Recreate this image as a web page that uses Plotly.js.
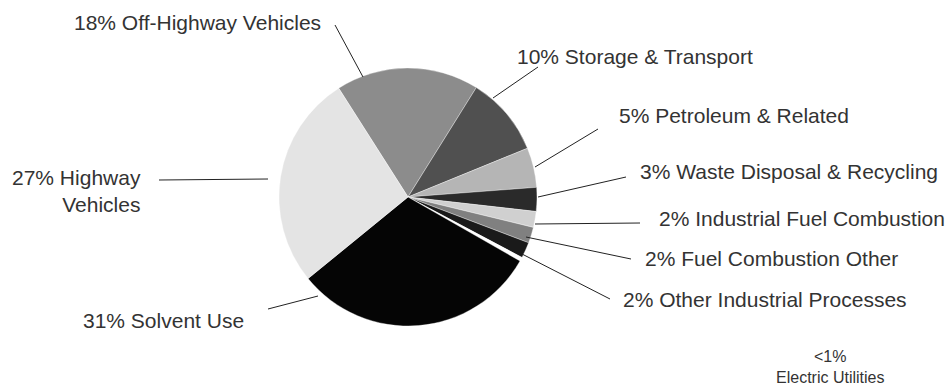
<!DOCTYPE html>
<html><head><meta charset="utf-8">
<script src="https://cdn.plot.ly/plotly-3.0.1.min.js"></script>
<style>html,body{margin:0;padding:0;background:#fff}#chart{width:950px;height:385px}</style>
</head><body><div id="chart"></div>
<script>
// Data
var categories = ["Off-Highway Vehicles","Storage & Transport","Petroleum & Related","Waste Disposal & Recycling","Industrial Fuel Combustion","Fuel Combustion Other","Other Industrial Processes","Electric Utilities","Solvent Use","Highway Vehicles"];
var values = [18, 10, 5, 3, 2, 2, 2, 0.5, 31, 27];
var labelTexts = ["18% Off-Highway Vehicles","10% Storage & Transport","5% Petroleum & Related","3% Waste Disposal & Recycling","2% Industrial Fuel Combustion","2% Fuel Combustion Other","2% Other Industrial Processes","<1%<br>Electric Utilities","31% Solvent Use","27% Highway<br>Vehicles"];

// Styles / layout helpers
var colors = ["#8c8c8c","#505050","#b5b5b5","#2a2a2a","#d0d0d0","#808080","#1a1a1a","#ffffff","#050505","#e4e4e4"];
var W = 950, H = 385;
var cx = 408, cy = 197, R = 129;
// label text positions (px), anchors, and leader line endpoints (px); null = no line
var textPos = [[323,22,"right"],[515,57,"left"],[617,115,"left"],[638,172,"left"],[657,218,"left"],[643,258,"left"],[621,299,"left"],[830,367,"center"],[246,320,"right"],[143,191,"right"]];
var lines = [[335,25,363,77],[538,67,493,98],[598,129,535,167],[626,177,538,197],[640,223,535,224],[631,259,526,237],[610,299,522,254],null,[268,309,318,296],[159,180,268,179]];

function px(x){return x/W;} function py(y){return 1-y/H;}

var trace = {
  type: "pie",
  labels: categories,
  values: values,
  sort: false,
  direction: "clockwise",
  rotation: -32.5,
  marker: {colors: colors, line: {color: "rgba(255,255,255,0.6)", width: 0.6}},
  textinfo: "none",
  hoverinfo: "label+percent",
  showlegend: false,
  domain: {x: [px(cx-R), px(cx+R)], y: [py(cy+R), py(cy-R)]}
};

var annotations = labelTexts.map(function(t,i){
  var p = textPos[i];
  var small = (i === 7);
  return {
    text: t, x: px(p[0]), y: py(p[1]), xref: "paper", yref: "paper",
    xanchor: p[2], yanchor: "middle", align: p[2], showarrow: false,
    font: {family: "Liberation Sans, Arial, sans-serif", size: small ? 16 : 21, color: "#333333"}
  };
});

var shapes = [];
lines.forEach(function(l){
  if(!l) return;
  shapes.push({type: "line", xref: "paper", yref: "paper",
    x0: px(l[0]), y0: py(l[1]), x1: px(l[2]), y1: py(l[3]),
    line: {color: "#222", width: 1}});
});

var layout = {
  width: W, height: H,
  margin: {l: 0, r: 0, t: 0, b: 0},
  paper_bgcolor: "#ffffff",
  annotations: annotations,
  shapes: shapes,
  showlegend: false
};

Plotly.newPlot("chart", [trace], layout, {displayModeBar: false, staticPlot: true});
</script></body></html>
